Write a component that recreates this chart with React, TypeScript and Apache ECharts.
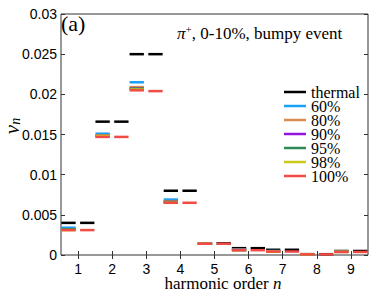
import React, { useEffect, useRef } from 'react';
import * as echarts from 'echarts';

const harmonics = ['1', '2', '3', '4', '5', '6', '7', '8', '9'];

// left dash (per series)
const thermal = [0.0040, 0.0166, 0.0250, 0.0080, 0.00145, 0.00085, 0.00065, 0.0001, 0.0005];
const p60 = [0.0034, 0.0151, 0.0215, 0.0069, 0.0014, 0.0007, 0.0005, 0.0001, 0.00042];
const p80 = [0.0032, 0.0149, 0.0209, 0.0067, 0.0014, 0.00065, 0.00047, 0.0001, 0.0004];
const p90 = [0.0032, 0.0148, 0.0207, 0.0066, 0.0014, 0.00062, 0.00045, 0.00008, 0.0004];
const p95 = [0.0032, 0.0148, 0.0207, 0.0066, 0.0014, 0.00062, 0.00045, 0.00008, 0.0004];
const p98 = [0.0031, 0.0148, 0.0206, 0.0065, 0.0014, 0.0006, 0.00044, 0.00008, 0.00039];
const p100 = [0.0031, 0.0147, 0.0205, 0.0065, 0.0014, 0.0006, 0.00043, 0.00008, 0.00038];
// right dash
const thermalRight = [0.0040, 0.0166, 0.0250, 0.0080, 0.00145, 0.00085, 0.00065, 0.0001, 0.0005];
const p100Right = [0.0031, 0.0147, 0.0204, 0.0065, 0.0014, 0.0006, 0.00043, 0.00008, 0.00038];

const seriesNames = ['thermal', '60%', '80%', '90%', '95%', '98%', '100%'];
const seriesColors = ['#000000', '#1aa0f5', '#d98c4f', '#9414dc', '#2e8b57', '#c8c81e', '#f24a44'];
const leftData = [thermal, p60, p80, p90, p95, p98, p100];

const serif = 'Liberation Serif';
const sans = 'Liberation Sans';

function makeSeries(name: string, color: string, values: number[], side: 'left' | 'right') {
  return {
    type: 'custom',
    name,
    itemStyle: { color },
    data: values.map((v, i) => [i, v]),
    renderItem: (_params: any, api: any) => {
      const p = api.coord([api.value(0), api.value(1)]);
      const band = api.size([1, 0])[0];
      const x1 = side === 'left' ? p[0] - 0.49 * band : p[0] + 0.06 * band;
      const x2 = side === 'left' ? p[0] - 0.07 * band : p[0] + 0.48 * band;
      return {
        type: 'line',
        shape: { x1, y1: p[1], x2, y2: p[1] },
        style: { stroke: color, lineWidth: 2.5 },
      };
    },
  };
}

export default function App() {
  const ref = useRef<HTMLDivElement>(null);
  useEffect(() => {
    if (!ref.current) return;
    const chart = echarts.init(ref.current, null, { renderer: 'svg' });
    const series: any[] = [];
    seriesNames.forEach((n, i) => series.push(makeSeries(n, seriesColors[i], leftData[i], 'left')));
    series.push(makeSeries('thermal', seriesColors[0], thermalRight, 'right'));
    series.push(makeSeries('100%', seriesColors[6], p100Right, 'right'));

    chart.setOption({
      animation: false,
      backgroundColor: '#ffffff',
      textStyle: { fontFamily: serif },
      grid: {
        left: 61, right: 6, top: 14, bottom: 36,
        show: true, borderColor: '#333', borderWidth: 1, backgroundColor: 'transparent',
      },
      legend: {
        show: true,
        orient: 'vertical',
        left: 284,
        top: 84,
        padding: 0,
        itemGap: -2,
        itemWidth: 22,
        itemHeight: 2.5,
        icon: 'rect',
        selectedMode: false,
        data: seriesNames,
        textStyle: { fontFamily: serif, fontSize: 16, color: '#000' },
      },
      xAxis: [
        {
          type: 'category',
          data: harmonics,
          boundaryGap: true,
          axisLine: { show: false },
          axisTick: { show: true, inside: true, alignWithLabel: true, length: 4, lineStyle: { color: '#333' } },
          axisLabel: { fontFamily: sans, fontSize: 14, lineHeight: 14, color: '#000', margin: 7 },
          splitLine: { show: false },
        },
        {
          type: 'category',
          data: harmonics,
          position: 'top',
          boundaryGap: true,
          axisLine: { show: false },
          axisTick: { show: true, inside: true, alignWithLabel: true, length: 4, lineStyle: { color: '#333' } },
          axisLabel: { show: false },
          splitLine: { show: false },
        },
      ],
      yAxis: [
        {
          type: 'value',
          min: 0,
          max: 0.03,
          interval: 0.005,
          axisLine: { show: false },
          axisTick: { show: true, inside: true, length: 4, lineStyle: { color: '#333' } },
          axisLabel: { fontFamily: sans, fontSize: 14, color: '#000', margin: 4 },
          splitLine: { show: false },
        },
        {
          type: 'value',
          min: 0,
          max: 0.03,
          interval: 0.005,
          position: 'right',
          axisLine: { show: false },
          axisTick: { show: true, inside: true, length: 4, lineStyle: { color: '#333' } },
          axisLabel: { show: false },
          splitLine: { show: false },
        },
      ],
      graphic: [
        {
          type: 'text',
          left: 61,
          top: 12,
          style: { text: '(a)', font: '22px "Liberation Serif"', fill: '#000' },
        },
        {
          type: 'text',
          x: 177,
          y: 33,
          style: {
            text: '{i|π}{s|+}{t|, 0-10%, bumpy event}',
            verticalAlign: 'middle',
            textAlign: 'left',
            rich: {
              i: { fontFamily: serif, fontStyle: 'italic', fontSize: 17, fill: '#000', lineHeight: 20 },
              s: { fontFamily: serif, fontSize: 11, fill: '#000', verticalAlign: 'top', lineHeight: 20 },
              t: { fontFamily: serif, fontSize: 17, fill: '#000', lineHeight: 20 },
            },
          },
        },
        {
          type: 'text',
          x: 223,
          y: 283,
          style: {
            text: '{t|harmonic order }{i|n}',
            textAlign: 'center',
            verticalAlign: 'middle',
            rich: {
              t: { fontFamily: serif, fontSize: 17, fill: '#000', lineHeight: 14 },
              i: { fontFamily: serif, fontStyle: 'italic', fontSize: 17, fill: '#000', lineHeight: 14 },
            },
          },
        },
        {
          type: 'text',
          x: 12,
          y: 126,
          rotation: Math.PI / 2,
          style: {
            text: '{v|v}{n|n}',
            textAlign: 'center',
            verticalAlign: 'middle',
            rich: {
              v: { fontFamily: serif, fontStyle: 'italic', fontSize: 21, fill: '#000', lineHeight: 20, verticalAlign: 'middle' },
              n: { fontFamily: serif, fontStyle: 'italic', fontSize: 14, fill: '#000', lineHeight: 20, verticalAlign: 'bottom' },
            },
          },
        },
      ],
      series,
    });
    return () => chart.dispose();
  }, []);
  return <div ref={ref} style={{ width: 374, height: 291, position: 'absolute', left: 0, top: 0 }} />;
}
